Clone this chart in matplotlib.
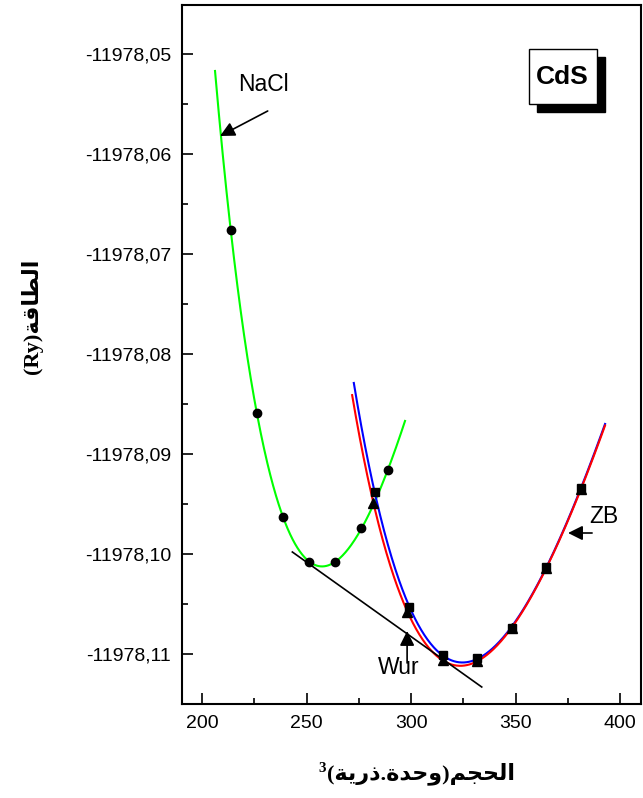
import numpy as np
import matplotlib
matplotlib.use('Agg')
import matplotlib.pyplot as plt
from matplotlib.ticker import FuncFormatter, MultipleLocator
from matplotlib.patches import Rectangle

plt.rcParams['font.family'] = ['Liberation Sans', 'DejaVu Sans']

# energies are given relative to -11978 Ry
E0 = -11978.0

# NaCl phase (circles)
v_nacl = [213.7, 226.2, 238.8, 251.2, 263.8, 276.2, 288.9]
e_nacl = [-0.0676, -0.0859, -0.0963, -0.1008, -0.1008, -0.0974, -0.0916]

# wurtzite (triangles, red curve)
v_wur = [282.0, 298.2, 315.3, 331.7, 348.3, 364.6, 381.3]
e_wur = [-0.0949, -0.1058, -0.1106, -0.1107, -0.1074, -0.1014, -0.0935]

# zinc blende (squares, blue curve)
v_zb = [282.6, 299.0, 315.5, 331.7, 348.3, 364.6, 381.3]
e_zb = [-0.0938, -0.1053, -0.1101, -0.1104, -0.1074, -0.1013, -0.0934]

# common tangent line
v_tan = [243.2, 333.8]
e_tan = [-0.0998, -0.1133]

# volume range over which each fitted curve is drawn
nacl_range = (206.2, 297.1)
wur_range = (271.8, 392.8)
zb_range = (272.6, 392.8)

yticks = [-11978.11, -11978.10, -11978.09, -11978.08, -11978.07, -11978.06, -11978.05]
xticks = [200, 250, 300, 350, 400]


def eos_fit(v, e, rng):
    # Birch-Murnaghan style fit: E cubic in V^(-2/3)
    v = np.asarray(v)
    e = np.asarray(e)
    c = np.polyfit((v / 300.0) ** (-2 / 3), e, 3)
    vv = np.linspace(rng[0], rng[1], 400)
    return vv, E0 + np.polyval(c, (vv / 300.0) ** (-2 / 3))


fig = plt.figure(figsize=(6.43, 7.98), dpi=100)
ax = fig.add_axes([182 / 643, 1 - 704 / 798, 459 / 643, 699 / 798])

vv, ee = eos_fit(v_nacl, e_nacl, nacl_range)
ax.plot(vv, ee, color='#00ff00', lw=1.5, zorder=2)
vv, ee = eos_fit(v_zb, e_zb, zb_range)
ax.plot(vv, ee, color='#0000ff', lw=1.5, zorder=2)
vv, ee = eos_fit(v_wur, e_wur, wur_range)
ax.plot(vv, ee, color='#ff0000', lw=1.5, zorder=3)

ax.plot(v_nacl, E0 + np.array(e_nacl), 'o', color='k', ms=6, zorder=5)
ax.plot(v_zb, E0 + np.array(e_zb), 's', color='k', ms=5.5, zorder=5)
ax.plot(v_wur, E0 + np.array(e_wur), '^', color='k', ms=6.5, zorder=5)

ax.plot(v_tan, E0 + np.array(e_tan), color='k', lw=1.2, zorder=4)

arrow = dict(arrowstyle='-|>', color='k', lw=1.2, mutation_scale=22, shrinkA=0, shrinkB=0)
ax.annotate('', xy=(208.6, E0 - 0.0582), xytext=(231.4, E0 - 0.0557), arrowprops=arrow)
ax.text(229.3, E0 - 0.0531, 'NaCl', fontsize=16.5, ha='center', va='center')
ax.annotate('', xy=(298.1, E0 - 0.1077), xytext=(298.1, E0 - 0.1109), arrowprops=arrow)
ax.text(294.0, E0 - 0.1114, 'Wur', fontsize=16.5, ha='center', va='center')
ax.annotate('', xy=(375.1, E0 - 0.0979), xytext=(386.6, E0 - 0.0979), arrowprops=arrow)
ax.text(392.3, E0 - 0.0963, 'ZB', fontsize=16.5, ha='center', va='center')

# CdS box with shadow
ax.add_patch(Rectangle((0.7553 + 0.0174, 0.8584 - 0.0114), 0.1482, 0.0782,
                       transform=ax.transAxes, facecolor='k', edgecolor='k', zorder=6))
ax.add_patch(Rectangle((0.7553, 0.8584), 0.1482, 0.0782, transform=ax.transAxes,
                       facecolor='white', edgecolor='k', lw=1.0, zorder=7))
ax.text(0.8294, 0.8975, 'CdS', transform=ax.transAxes, fontsize=19, fontweight='bold',
        ha='center', va='center', zorder=8)

ax.set_xlim(190.4, 410.0)
ax.set_ylim(-11978.115, -11978.0451)
ax.set_xticks(xticks)
ax.set_yticks(yticks)
ax.xaxis.set_minor_locator(MultipleLocator(25))
ax.yaxis.set_minor_locator(MultipleLocator(0.005))
ax.yaxis.set_major_formatter(FuncFormatter(lambda v, p: f'{v:.2f}'.replace('.', ',')))
ax.tick_params(which='both', direction='in', top=False, right=False, labelsize=14, width=1.2)
ax.tick_params(which='major', length=8, pad=8)
ax.tick_params(which='minor', length=4.5)
for s in ax.spines.values():
    s.set_linewidth(1.5)

# axis titles (Arabic written in presentation forms, visual order)
arab_font = ['Liberation Serif', 'DejaVu Sans']
fig.text(0.05, 0.603, '(Ry)\uFE94\uFED7\uFE8E\uFEC4\uFEDF\uFE8D', rotation=90,
         family=arab_font, fontweight='bold', fontsize=16, ha='center', va='center')
xl = fig.text(0.655, 0.031,
              '(\uFE94\uFEF3\uFEAD\uFEAB.\uFE93\uFEAA\uFEA3\uFEED)\uFEE2\uFEA0\uFEA4\uFEDF\uFE8D',
              family=arab_font, fontweight='bold', fontsize=16, ha='center', va='center')
fig.canvas.draw()
bb = xl.get_window_extent()
fig.text(bb.x0 / fig.bbox.width - 0.002, bb.y1 / fig.bbox.height, '3',
         family=arab_font, fontweight='bold', fontsize=11, ha='right', va='top')

fig.savefig('out.png', dpi=100)
